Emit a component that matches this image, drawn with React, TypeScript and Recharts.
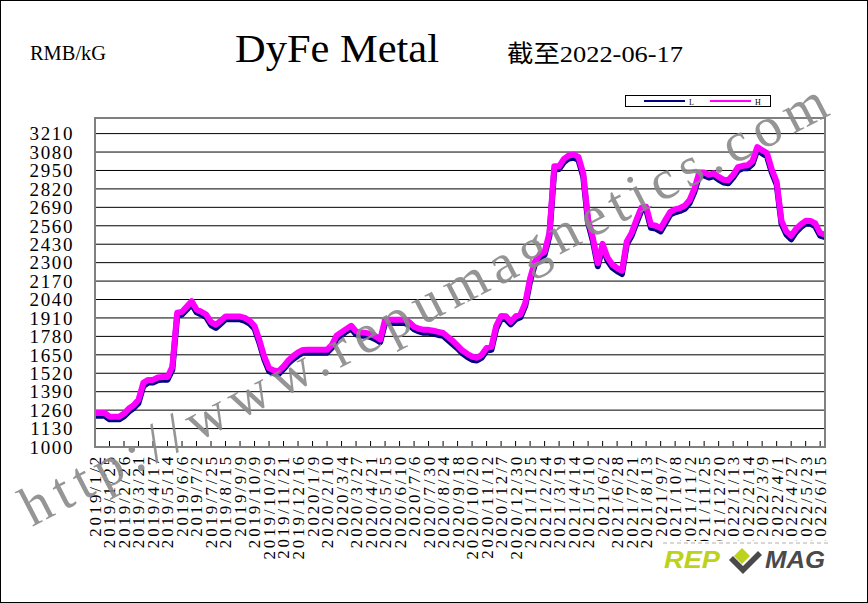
import { CartesianGrid, Legend, Line, LineChart, XAxis, YAxis } from "recharts"

const tickLabels = [
  "2019/1/2", "2019/1/25", "2019/2/26", "2019/3/21", "2019/4/17", "2019/5/14", "2019/6/6", "2019/7/2",
  "2019/7/25", "2019/8/15", "2019/9/9", "2019/10/9", "2019/10/29", "2019/11/21", "2019/12/16", "2020/1/9",
  "2020/2/10", "2020/3/4", "2020/3/27", "2020/4/21", "2020/5/15", "2020/6/10", "2020/7/6", "2020/7/30",
  "2020/8/24", "2020/9/18", "2020/10/20", "2020/11/12", "2020/12/7", "2020/12/30", "2021/1/25", "2021/2/24",
  "2021/3/19", "2021/4/14", "2021/5/10", "2021/6/2", "2021/6/28", "2021/7/21", "2021/8/13", "2021/9/7",
  "2021/10/8", "2021/11/2", "2021/11/25", "2021/12/20", "2022/1/13", "2022/2/14", "2022/3/9", "2022/4/1",
  "2022/4/27", "2022/5/23", "2022/6/15",
]

const high = [
  1240, 1240, 1240, 1214, 1214, 1214, 1236, 1271, 1294, 1333, 1452, 1473, 1473, 1490, 1494, 1494,
  1566, 1947, 1953, 1991, 2028, 1970, 1954, 1934, 1880, 1862, 1890, 1920, 1920, 1920, 1920, 1910,
  1890, 1853, 1754, 1638, 1556, 1540, 1535, 1569, 1611, 1642, 1667, 1684, 1685, 1685, 1685, 1685,
  1685, 1720, 1787, 1810, 1833, 1855, 1815, 1807, 1805, 1796, 1782, 1758, 1897, 1897, 1897, 1897,
  1897, 1880, 1848, 1834, 1826, 1826, 1820, 1812, 1804, 1776, 1748, 1714, 1680, 1657, 1638, 1629,
  1650, 1699, 1707, 1855, 1924, 1922, 1883, 1921, 1935, 2015, 2190, 2308, 2356, 2376, 2510, 2979,
  2979, 3032, 3056, 3062, 3046, 2928, 2603, 2473, 2296, 2432, 2337, 2287, 2261, 2243, 2450, 2510,
  2602, 2687, 2694, 2567, 2560, 2543, 2602, 2658, 2676, 2685, 2702, 2742, 2823, 2936, 2935, 2920,
  2930, 2905, 2885, 2882, 2919, 2973, 2983, 2987, 3017, 3115, 3093, 3072, 2956, 2870, 2594, 2520,
  2490, 2538, 2570, 2595, 2594, 2576, 2509, 2497,
]

const low = [
  1220, 1220, 1220, 1195, 1195, 1195, 1215, 1250, 1275, 1310, 1430, 1455, 1455, 1470, 1475, 1475,
  1545, 1925, 1935, 1970, 2010, 1950, 1935, 1915, 1860, 1840, 1870, 1900, 1900, 1900, 1900, 1890,
  1870, 1835, 1735, 1620, 1535, 1520, 1515, 1550, 1590, 1620, 1645, 1665, 1665, 1665, 1665, 1665,
  1665, 1700, 1765, 1790, 1815, 1835, 1795, 1785, 1785, 1775, 1760, 1740, 1875, 1875, 1875, 1875,
  1875, 1860, 1830, 1815, 1805, 1805, 1800, 1790, 1785, 1755, 1725, 1695, 1660, 1635, 1615, 1610,
  1630, 1680, 1685, 1835, 1905, 1900, 1865, 1900, 1915, 1995, 2170, 2290, 2335, 2355, 2490, 2955,
  2960, 3010, 3035, 3040, 3025, 2905, 2580, 2450, 2275, 2410, 2315, 2265, 2240, 2220, 2430, 2490,
  2580, 2665, 2675, 2545, 2540, 2520, 2580, 2640, 2655, 2665, 2680, 2720, 2800, 2915, 2915, 2900,
  2910, 2885, 2865, 2860, 2900, 2950, 2965, 2965, 2995, 3095, 3070, 3050, 2935, 2850, 2575, 2500,
  2465, 2515, 2550, 2575, 2575, 2555, 2490, 2480,
]

const yTicks = [1000, 1130, 1260, 1390, 1520, 1650, 1780, 1910, 2040, 2170, 2300, 2430, 2560, 2690, 2820, 2950, 3080, 3210]
const seriesOrder = ["L", "H"]

const data = high.map((h, i) => ({ i, L: low[i], H: h }))
const xTicks = tickLabels.map((_, k) => k * 3)

const SERIF = "'Liberation Serif', 'Noto Sans CJK SC', serif"

function DateTick(props: any) {
  const { x, y, payload } = props
  const label = tickLabels[Math.round(payload.value / 3)]
  return (
    <g>
      <line x1={x} x2={x} y1={y - 6} y2={y} stroke="#000" />
      <text
        transform={`translate(${x},${y + 7}) rotate(-90)`}
        textAnchor="end"
        dy="0.35em"
        fontSize={17}
        letterSpacing={2.8}
        fontFamily={SERIF}
        fill="#000"
      >
        {label}
      </text>
    </g>
  )
}

function LegendBox(props: any) {
  const items = [...(props.payload || [])].sort(
    (a: any, b: any) => seriesOrder.indexOf(a.value) - seriesOrder.indexOf(b.value)
  )
  return (
    <svg width={147} height={13} style={{ display: "block" }}>
      <rect x={0.5} y={0.5} width={145} height={11} fill="#fff" stroke="#000" />
      {items.map((it: any, k: number) => (
        <g key={it.value}>
          <line x1={19 + k * 66} x2={60 + k * 66} y1={6} y2={6} stroke={it.color} strokeWidth={2} />
          <text x={64 + k * 66} y={9.5} fontSize={8} fontFamily={SERIF} fill="#000">
            {it.value}
          </text>
        </g>
      ))}
    </svg>
  )
}

export default function App() {
  return (
    <div
      style={{
        position: "absolute",
        left: 0,
        top: 0,
        width: 868,
        height: 603,
        background: "#fff",
        border: "1px solid #000",
        boxSizing: "border-box",
        overflow: "hidden",
      }}
    >
      <div style={{ position: "absolute", left: -1, top: -1 }}>
        <LineChart width={868} height={603} data={data} margin={{ top: 105, right: 43, bottom: 56, left: 0 }}>
          <CartesianGrid horizontal vertical={false} stroke="#000" strokeOpacity={1} />
          <XAxis
            dataKey="i"
            type="number"
            domain={[0, 151]}
            ticks={xTicks}
            interval={0}
            height={100}
            tickSize={0}
            tickMargin={0}
            tickLine={false}
            axisLine={{ stroke: "#808080", strokeWidth: 2 }}
            tick={<DateTick />}
          />
          <YAxis
            type="number"
            domain={[1000, 3320]}
            ticks={yTicks}
            interval={0}
            width={95}
            tickSize={0}
            tickMargin={21}
            tickLine={false}
            axisLine={{ stroke: "#808080", strokeWidth: 2 }}
            tick={{ fill: "#000", fontSize: 19, letterSpacing: 1.6, fontFamily: SERIF }}
          />
          <Legend
            verticalAlign="top"
            align="left"
            content={<LegendBox />}
            wrapperStyle={{ position: "absolute", left: 625, top: 95, width: 147, height: 13 }}
          />
          <Line
            dataKey="L"
            name="L"
            type="linear"
            stroke="#000080"
            strokeWidth={6}
            strokeLinejoin="round"
            dot={false}
            isAnimationActive={false}
          />
          <Line
            dataKey="H"
            name="H"
            type="linear"
            stroke="#FF00FF"
            strokeWidth={6}
            strokeLinejoin="round"
            dot={false}
            isAnimationActive={false}
          />
        </LineChart>
      </div>
      <svg
        width={868}
        height={603}
        style={{ position: "absolute", left: -1, top: -1, pointerEvents: "none" }}
      >
        <rect x={95} y={118} width={730} height={329} fill="none" stroke="#808080" strokeWidth={2} />
        <text x={30} y={60} fontSize={20} fontFamily={SERIF} textLength={76} lengthAdjust="spacingAndGlyphs">
          RMB/kG
        </text>
        <text x={235} y={62} fontSize={40} fontFamily={SERIF} textLength={204} lengthAdjust="spacingAndGlyphs">
          DyFe Metal
        </text>
        <text x={507} y={62} fontSize={24} fontFamily={SERIF} textLength={176} lengthAdjust="spacingAndGlyphs">
          截至2022-06-17
        </text>
        <text
          x={32}
          y={527}
          transform="rotate(-27.3 32 527)"
          fontSize={56}
          fontFamily={SERIF}
          fill="#8a8a8a"
          fillOpacity={0.9}
          textLength={900}
          lengthAdjust="spacing"
        >
          http://www.repumagnetics.com
        </text>
        <rect x={655} y={541} width={213} height={62} fill="#fff" />
        <line x1={663} x2={830} y1={543} y2={543} stroke="#b0b0b0" strokeDasharray="4 3" />
        <text x={664} y={568} fontSize={23} fontWeight="bold" fontStyle="italic" fontFamily="'Liberation Sans', sans-serif" fill="#bcd21c" textLength={56} lengthAdjust="spacingAndGlyphs">
          REP
        </text>
        <polygon points="742,548 750,556 742,564 734,556" fill="#bcd21c" />
        <polygon points="729,560 733,556 743,566 758,551 762,555 743,574" fill="#4a4a4a" />
        <text x={765} y={568} fontSize={23} fontWeight="bold" fontStyle="italic" fontFamily="'Liberation Sans', sans-serif" fill="#4a4a4a" textLength={60} lengthAdjust="spacingAndGlyphs">
          MAG
        </text>
      </svg>
    </div>
  )
}
